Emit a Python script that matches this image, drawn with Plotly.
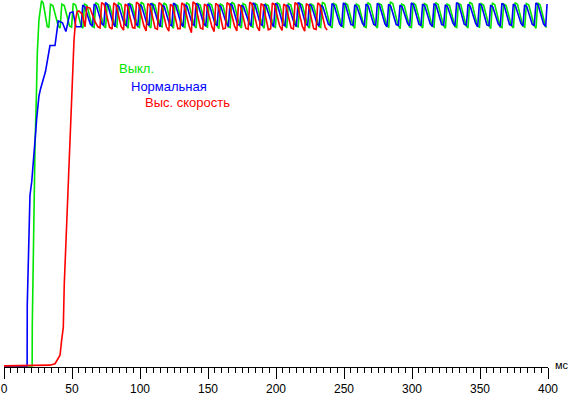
import plotly.graph_objects as go

# ---- data (time in ms, level in arbitrary % units) ----
green_label = "Выкл."
blue_label = "Нормальная"
red_label = "Выс. скорость"
x_tick_values = [0, 50, 100, 150, 200, 250, 300, 350, 400]
x_unit = "мс"

green_t = [
    0, 20.7, 20.8, 21.7, 22.8, 23.8, 24.5, 25.7, 27.6, 28.8, 31.8,
    33.0, 34.2, 36.0, 39.9, 41.3, 42.5, 44.3, 48.2, 49.7, 50.9, 52.7, 56.6,
    58.0, 59.2, 61.0, 64.9, 66.3, 67.5, 69.3, 73.2, 74.7, 75.9, 77.7, 81.6,
    83.0, 84.2, 86.0, 89.9, 91.3, 92.5, 94.3, 98.2, 99.6, 100.8, 102.6, 106.5,
    108.0, 109.2, 111.0, 114.9, 116.3, 117.5, 119.3, 123.2, 124.6, 125.8, 127.6, 131.5,
    133.0, 134.2, 136.0, 139.9, 141.3, 142.5, 144.3, 148.2, 149.6, 150.8, 152.6, 156.5,
    158.0, 159.2, 161.0, 164.9, 166.3, 167.5, 169.3, 173.2, 174.6, 175.8, 177.6, 181.5,
    183.0, 184.2, 186.0, 189.9, 191.3, 192.5, 194.3, 198.2, 199.6, 200.8, 202.6, 206.5,
    207.9, 209.1, 210.9, 214.8, 216.3, 217.5, 219.3, 223.2, 224.6, 225.8, 227.6, 231.5,
    232.9, 234.1, 235.9, 239.8, 241.3, 242.5, 244.3, 248.2, 249.6, 250.8, 252.6, 256.5,
    257.9, 259.1, 260.9, 264.8, 266.3, 267.5, 269.3, 273.2, 274.6, 275.8, 277.6, 281.5,
    282.9, 284.1, 285.9, 289.8, 291.3, 292.5, 294.3, 298.2, 299.6, 300.8, 302.6, 306.5,
    307.9, 309.1, 310.9, 314.8, 316.2, 317.4, 319.2, 323.1, 324.6, 325.8, 327.6, 331.5,
    332.9, 334.1, 335.9, 339.8, 341.2, 342.4, 344.2, 348.1, 349.6, 350.8, 352.6, 356.5,
    357.9, 359.1, 360.9, 364.8, 366.2, 367.4, 369.2, 373.1, 374.6, 375.8, 377.6, 381.5,
    382.9, 384.1, 385.9, 389.8, 391.2, 392.4, 394.2, 398.1, 399.0,
]
green_v = [
    0.3, 0.3, 11.6, 38.6, 60.0, 73.8, 85.7, 94.6, 99.8, 99.2, 92.8,
    92.5, 98.8, 98.4, 92.9, 92.4, 98.9, 98.5, 92.9, 92.6, 99.1, 98.6, 93.0,
    92.3, 98.9, 98.5, 92.8, 92.5, 99.3, 98.8, 93.0, 92.4, 98.9, 98.5, 92.9,
    92.6, 99.2, 98.8, 93.1, 92.3, 99.0, 98.6, 92.8, 92.5, 99.4, 98.9, 93.0,
    92.4, 99.0, 98.6, 92.9, 92.7, 99.2, 98.7, 93.1, 92.3, 98.9, 98.5, 92.8,
    92.5, 99.3, 98.8, 93.0, 92.4, 99.0, 98.6, 92.9, 92.6, 99.1, 98.7, 93.1,
    92.2, 98.9, 98.5, 92.7, 92.5, 99.4, 98.9, 93.0, 92.4, 99.0, 98.6, 92.9,
    92.6, 99.2, 98.7, 93.1, 92.3, 98.9, 98.5, 92.8, 92.5, 99.3, 98.8, 93.0,
    92.4, 99.0, 98.6, 92.9, 92.7, 99.1, 98.7, 93.1, 92.3, 98.9, 98.5, 92.8,
    92.5, 99.4, 98.9, 93.0, 92.4, 99.0, 98.6, 92.9, 92.6, 99.2, 98.7, 93.1,
    92.3, 98.9, 98.5, 92.8, 92.5, 99.3, 98.8, 93.0, 92.4, 99.0, 98.6, 92.9,
    92.6, 99.5, 99.0, 93.1, 92.2, 98.9, 98.5, 92.7, 92.5, 99.2, 98.7, 93.0,
    92.4, 99.0, 98.6, 92.9, 92.6, 99.3, 98.8, 93.1, 92.3, 98.9, 98.5, 92.8,
    92.5, 99.1, 98.7, 93.0, 92.4, 99.4, 98.9, 92.9, 92.6, 99.0, 98.6, 93.1,
    92.2, 99.2, 98.7, 92.7, 92.5, 98.9, 98.5, 93.0, 92.4, 99.3, 98.8, 92.9,
    92.6, 99.0, 98.6, 93.1, 92.3, 99.2, 98.7, 92.9, 92.5,
]

blue_t = [
    0, 17.0, 17.1, 17.9, 18.6, 19.1, 20.4, 21.5, 22.3, 23.3, 24.0, 24.8, 25.7,
    26.8, 28.3, 30.5, 31.4, 33.1, 33.8, 37.5, 38.2, 39.2, 39.9, 43.0, 45.5,
    48.5, 50.7, 52.9,
    56.7, 57.9, 59.5, 63.5, 65.1, 66.3, 67.9, 71.9, 73.4, 74.6, 76.2, 80.2,
    81.7, 82.9, 84.5, 88.5, 90.1, 91.3, 92.9, 96.9, 98.4, 99.6, 101.2, 105.2,
    106.7, 107.9, 109.5, 113.5, 115.0, 116.2, 117.8, 121.8, 123.4, 124.6, 126.2, 130.2,
    131.7, 132.9, 134.5, 138.5, 140.0, 141.2, 142.8, 146.8, 148.4, 149.6, 151.2, 155.2,
    156.7, 157.9, 159.5, 163.5, 165.0, 166.2, 167.8, 171.8, 173.4, 174.6, 176.2, 180.2,
    181.7, 182.9, 184.5, 188.5, 190.0, 191.2, 192.8, 196.8, 198.3, 199.5, 201.1, 205.1,
    206.7, 207.9, 209.5, 213.5, 215.0, 216.2, 217.8, 221.8, 223.3, 224.5, 226.1, 230.1,
    231.7, 232.9, 234.5, 238.5, 240.0, 241.2, 242.8, 246.8, 248.3, 249.5, 251.1, 255.1,
    256.7, 257.9, 259.5, 263.5, 265.0, 266.2, 267.8, 271.8, 273.3, 274.5, 276.1, 280.1,
    281.6, 282.8, 284.4, 288.4, 290.0, 291.2, 292.8, 296.8, 298.3, 299.5, 301.1, 305.1,
    306.6, 307.8, 309.4, 313.4, 315.0, 316.2, 317.8, 321.8, 323.3, 324.5, 326.1, 330.1,
    331.6, 332.8, 334.4, 338.4, 340.0, 341.2, 342.8, 346.8, 348.3, 349.5, 351.1, 355.1,
    356.6, 357.8, 359.4, 363.4, 364.9, 366.1, 367.7, 371.7, 373.3, 374.5, 376.1, 380.1,
    381.6, 382.8, 384.4, 388.4, 389.9, 391.1, 392.7, 396.7, 398.3, 399.3,
]
blue_v = [
    0.3, 0.3, 16.8, 33.2, 40.0, 46.8, 50.5, 54.9, 60.3, 64.0, 67.6, 71.1, 73.8,
    75.7, 77.6, 80.5, 82.4, 87.0, 87.6, 87.6, 90.0, 93.8, 94.3, 93.8, 91.4,
    96.5, 96.8, 92.7,
    92.7, 98.6, 98.1, 93.4, 92.9, 98.9, 98.4, 93.5, 93.1, 99.3, 98.7, 93.6,
    92.8, 98.7, 98.2, 93.4, 93.0, 99.0, 98.5, 93.6, 92.9, 98.8, 98.3, 93.4,
    93.2, 99.1, 98.6, 93.7, 92.7, 98.6, 98.2, 93.3, 93.0, 99.2, 98.6, 93.5,
    92.8, 98.7, 98.3, 93.4, 93.1, 99.1, 98.6, 93.6, 92.9, 98.9, 98.4, 93.5,
    93.0, 98.7, 98.2, 93.6, 92.8, 99.0, 98.5, 93.3, 93.2, 98.6, 98.1, 93.7,
    92.9, 99.2, 98.7, 93.4, 93.1, 98.8, 98.3, 93.6, 92.7, 99.1, 98.6, 93.3,
    93.0, 98.7, 98.2, 93.5, 92.8, 99.3, 98.8, 93.4, 93.1, 98.9, 98.4, 93.6,
    92.9, 98.6, 98.1, 93.4, 93.0, 99.0, 98.5, 93.5, 92.8, 99.2, 98.7, 93.3,
    93.2, 98.7, 98.2, 93.7, 92.9, 98.9, 98.4, 93.4, 93.0, 99.1, 98.6, 93.5,
    92.7, 98.8, 98.3, 93.3, 93.1, 98.6, 98.1, 93.6, 92.9, 99.2, 98.7, 93.4,
    93.0, 98.9, 98.4, 93.5, 92.8, 99.0, 98.5, 93.3, 93.2, 98.7, 98.2, 93.7,
    92.9, 99.3, 98.8, 93.4, 93.1, 98.8, 98.3, 93.6, 92.7, 99.0, 98.5, 93.2,
    93.0, 98.6, 98.1, 93.5, 92.8, 99.1, 98.6, 93.3, 93.1, 98.9, 98.4, 93.6,
    92.9, 98.7, 98.2, 93.4, 93.0, 99.2, 98.7, 93.5, 92.8, 98.9,
]

red_t = [
    0, 30.0, 33.8, 37.5, 39.9, 41.2, 42.4, 43.6, 44.3, 45.4, 46.1, 47.3, 48.0,
    49.0, 49.8, 50.5, 51.5, 52.7, 53.7, 55.1, 57.4, 59.6, 60.8, 63.2, 66.9,
    69.1, 70.6, 71.8, 73.6, 77.6,
    79.5, 80.7, 82.3, 86.1, 87.9, 89.1, 90.7, 94.5, 96.2, 97.4, 99.0, 102.8,
    104.5, 105.7, 107.3, 111.1, 112.8, 114.0, 115.6, 119.4, 121.2, 122.4, 124.0, 127.8,
    129.5, 130.7, 132.3, 136.1, 137.8, 139.0, 140.6, 144.4, 146.2, 147.4, 149.0, 152.8,
    154.5, 155.7, 157.3, 161.1, 162.8, 164.0, 165.6, 169.4, 171.2, 172.4, 174.0, 177.8,
    179.5, 180.7, 182.3, 186.1, 187.8, 189.0, 190.6, 194.4, 196.1, 197.3, 198.9, 202.7,
    204.5, 205.7, 207.3, 211.1, 212.8, 214.0, 215.6, 219.4, 221.1, 222.3, 223.9, 227.7,
    229.5, 230.7, 232.3, 236.1, 237.6,
]
red_v = [
    0.3, 0.3, 0.5, 0.9, 2.4, 3.2, 7.3, 10.8, 22.4, 32.4, 41.4, 48.6, 58.6,
    66.2, 73.0, 81.9, 89.2, 94.6, 96.8, 97.0, 96.2, 92.7, 98.1, 97.8, 94.1,
    92.7, 92.4, 99.3, 98.8, 92.6,
    92.1, 99.2, 98.7, 92.8, 91.8, 98.9, 98.4, 92.5, 92.3, 99.4, 98.9, 93.0,
    91.6, 99.0, 98.5, 92.3, 92.0, 99.3, 98.8, 92.7, 91.5, 98.8, 98.3, 92.2,
    92.2, 99.2, 98.7, 92.9, 91.1, 99.5, 99.0, 92.4, 92.1, 98.9, 98.4, 92.8,
    91.4, 99.1, 98.6, 92.1, 92.3, 99.3, 98.8, 93.0, 91.6, 98.8, 98.3, 92.3,
    92.0, 99.4, 98.9, 92.7, 91.6, 99.0, 98.5, 91.9, 92.2, 99.2, 98.7, 92.9,
    91.7, 98.9, 98.4, 92.4, 92.1, 99.3, 98.8, 92.8, 91.5, 99.0, 98.5, 92.2,
    92.0, 99.2, 98.7, 92.6, 91.8,
]

GREEN = "#00e600"
BLUE = "#0000ff"
RED = "#ff0000"
FONT = "Liberation Sans, Arial, sans-serif"

fig = go.Figure()
for t, v, c, name in [
    (green_t, green_v, GREEN, green_label),
    (blue_t, blue_v, BLUE, blue_label),
    (red_t, red_v, RED, red_label),
]:
    fig.add_trace(go.Scatter(x=t, y=v, mode="lines", name=name,
                             line=dict(color=c, width=1.6), showlegend=False,
                             hoverinfo="skip"))

labels = [(green_label, GREEN, 83.0, 81.4),
          (blue_label, BLUE, 91.8, 76.4),
          (red_label, RED, 102.0, 72.2)]
for text, c, x, y in labels:
    fig.add_annotation(x=x, y=y, xref="x", yref="y", text=text, showarrow=False,
                       xanchor="left", yanchor="middle",
                       font=dict(family=FONT, size=13, color=c))

fig.add_annotation(x=1, y=0, xref="paper", yref="paper", text=x_unit, showarrow=False,
                   xanchor="left", yanchor="middle", xshift=5, yshift=2,
                   font=dict(family=FONT, size=11, color="black"))

fig.update_layout(
    width=569, height=396,
    margin=dict(l=4, r=21, t=0, b=26),
    paper_bgcolor="white", plot_bgcolor="white",
    hovermode=False,
    xaxis=dict(range=[0, 400], showline=True, linecolor="black", linewidth=1,
               tickmode="array", tickvals=x_tick_values,
               ticktext=[str(v) for v in x_tick_values],
               ticks="outside", ticklen=11, tickwidth=1, tickcolor="black",
               minor=dict(dtick=5, tick0=0, ticks="outside", ticklen=5,
                          tickcolor="black", tickwidth=1, showgrid=False),
               showgrid=False, zeroline=False,
               tickfont=dict(family=FONT, size=12, color="black")),
    yaxis=dict(range=[0, 100], visible=False, showgrid=False, zeroline=False),
)

fig.write_html("out.html",
               config={"displayModeBar": False, "staticPlot": True},
               post_script="document.body.style.margin='0';"
                           "document.body.style.padding='0';"
                           "document.body.style.overflow='hidden';")
